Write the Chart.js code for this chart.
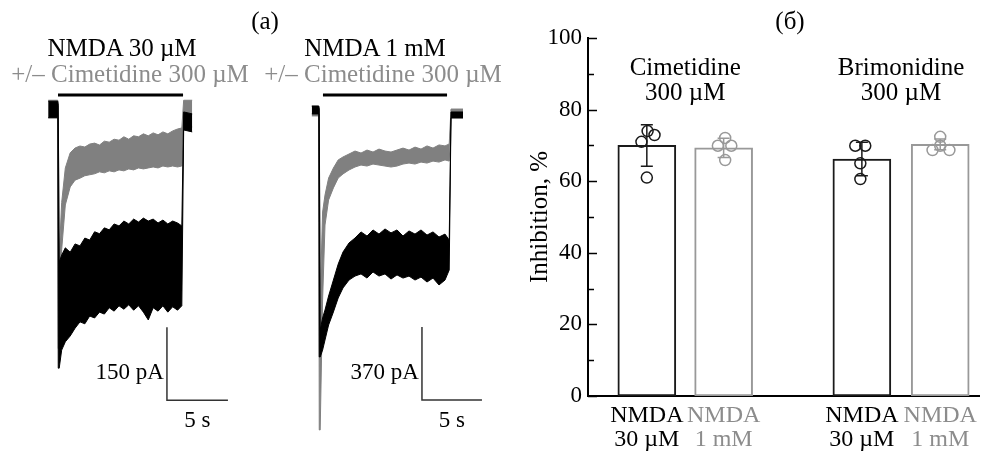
<!DOCTYPE html>
<html>
<head>
<meta charset="utf-8">
<script src="https://cdn.jsdelivr.net/npm/chart.js@4.4.1/dist/chart.umd.min.js"></script>
<style>
  html, body { margin: 0; padding: 0; background: #fff; }
  #wrap { position: relative; width: 986px; height: 451px; overflow: hidden; font-family: "Liberation Serif", "Times New Roman", serif; }
  #traces { position: absolute; left: 0; top: 0; }
  #bars { position: absolute; left: 500px; top: 0; }
  .lbl { position: absolute; transform: translate(-50%, -50%); white-space: nowrap; font-size: 25px; line-height: 1; color: #000; }
  .gray { color: #8c8c8c; }
</style>
</head>
<body>
<div id="wrap">
  <canvas id="traces" width="500" height="451"></canvas>
  <canvas id="bars" width="486" height="451"></canvas>
  <div class="lbl" style="left:265px;top:20px">(a)</div>
  <div class="lbl" style="left:122px;top:47px">NMDA 30 µM</div>
  <div class="lbl gray" style="left:130px;top:73px">+/– Cimetidine 300 µM</div>
  <div class="lbl" style="left:375px;top:47px">NMDA 1 mM</div>
  <div class="lbl gray" style="left:383px;top:73px">+/– Cimetidine 300 µM</div>
  <div class="lbl" style="left:790px;top:20px">(б)</div>
</div>
<script>
// ---- panel (a): current traces, envelopes of the noisy records (s, pA)
const trace1Time = [-0.8, -0.02, 0.02, 0.1, 0.3, 0.6, 1.0, 1.4, 1.8, 2.2, 2.6, 3.0, 3.4, 3.8, 4.2, 4.6, 5.0, 5.4, 5.8, 6.2, 6.6, 7.0, 7.4, 7.8, 8.2, 8.6, 9.0, 9.4, 9.8, 10.15, 10.3, 11.0];
const trace1CtrlUpper = [18, 18, 10, -312, -298, -283, -292, -275, -279, -263, -267, -250, -254, -242, -246, -234, -238, -228, -234, -224, -230, -222, -228, -224, -232, -226, -234, -228, -232, -238, -4, -8];
const trace1CtrlLower = [-16, -16, -530, -530, -493, -476, -464, -448, -435, -439, -423, -427, -415, -419, -406, -413, -402, -409, -400, -411, -402, -415, -431, -406, -413, -402, -415, -404, -411, -402, -41, -45];
const trace1CimUpper = [20, 20, 10, -300, -190, -119, -88, -78, -74, -76, -70, -68, -72, -64, -66, -60, -62, -55, -60, -53, -55, -49, -53, -47, -51, -45, -49, -43, -39, -37, 20, 20];
const trace1CimLower = [-16, -16, -490, -490, -287, -195, -158, -144, -140, -135, -133, -131, -127, -129, -125, -127, -123, -125, -121, -123, -119, -121, -119, -117, -119, -115, -117, -115, -117, -115, -35, -35];

const trace2Time = [-0.6, -0.02, 0.02, 0.1, 0.3, 0.5, 0.8, 1.2, 1.6, 2.0, 2.5, 3.0, 3.5, 4.0, 4.5, 5.0, 5.5, 6.0, 6.5, 7.0, 7.5, 8.0, 8.5, 9.0, 9.5, 10.0, 10.5, 10.85, 11.0, 12.0];
const trace2CtrlUpper = [25, 25, 10, -1110, -1049, -1009, -938, -857, -776, -715, -669, -644, -613, -634, -603, -624, -598, -618, -603, -634, -608, -624, -603, -629, -613, -639, -624, -654, -5, -5];
const trace2CtrlLower = [-15, -15, -1247, -1247, -1212, -1161, -1085, -1019, -948, -897, -857, -837, -826, -847, -816, -837, -826, -852, -831, -847, -837, -857, -842, -867, -847, -882, -857, -806, -35, -35];
const trace2CimUpper = [25, 25, 10, -958, -512, -426, -340, -289, -248, -233, -218, -203, -213, -198, -208, -193, -203, -208, -198, -188, -198, -183, -193, -177, -188, -172, -177, -167, 10, 10];
const trace2CimLower = [-25, -25, -1617, -1617, -958, -578, -451, -390, -340, -319, -299, -284, -274, -279, -269, -274, -279, -284, -279, -269, -264, -269, -259, -264, -254, -259, -248, -254, -35, -35];

// application bars (s) and scale bars
const app1Time = [0, 10.25];
const app2Time = [0.33, 10.67];
const scale1Time = [8.93, 8.93, 13.93];
const scale1Current = [-446, -596, -596];
const scale2Time = [8.58, 8.58, 13.58];
const scale2Current = [-1095, -1465, -1465];
const scaleLabels = [['150 pA', '5 s'], ['370 pA', '5 s']];

// ---- panel (б): inhibition, %
const barLabels = [['NMDA', '30 µM'], ['NMDA', '1 mM'], ['NMDA', '30 µM'], ['NMDA', '1 mM']];
const barPos = [0, 1, 2.8, 3.82];
const barMeans = [70.0, 69.3, 66.2, 70.3];
const barSD = [5.8, 2.7, 4.7, 1.5];
const cellValues = [[71.0, 74.0, 72.9, 61.0], [72.1, 69.9, 69.9, 65.9], [69.9, 69.9, 65.0, 60.6], [72.4, 68.7, 68.7, 69.9]];
const cellJitter = [[-0.07, 0.01, 0.1, 0], [0.02, -0.075, 0.1, 0.02], [-0.086, 0.044, -0.02, -0.02], [0, -0.1, 0.12, 0]];
const groupNames = [['Cimetidine', '300 µM'], ['Brimonidine', '300 µM']];

const BLACK = '#000000';
const GRAY = '#808080';
const barColors = ['#1a1a1a', '#999999', '#1a1a1a', '#999999'];
const textColors = ['#000000', '#8c8c8c', '#000000', '#8c8c8c'];
const FONT = '"Liberation Serif", "Times New Roman", serif';

function band(time, up, low, color, xID, yID, ord) {
  const common = { borderColor: color, backgroundColor: color, borderWidth: 1, pointRadius: 0, tension: 0, xAxisID: xID, yAxisID: yID, order: ord };
  return [
    Object.assign({ data: time.map((t, i) => ({ x: t, y: up[i] })), fill: false }, common),
    Object.assign({ data: time.map((t, i) => ({ x: t, y: low[i] })), fill: '-1' }, common)
  ];
}

function lineSet(xs, ys, xID, yID, width, color) {
  return { data: xs.map((t, i) => ({ x: t, y: ys[i] })), borderColor: color, borderWidth: width, pointRadius: 0, fill: false, xAxisID: xID, yAxisID: yID, order: 0 };
}

const scaleLabelPlugin = {
  id: 'scaleLabels',
  afterDatasetsDraw(chart) {
    const ctx = chart.ctx;
    const sets = [[scale1Time, scale1Current, 'x1', 'y1'], [scale2Time, scale2Current, 'x2', 'y2']];
    ctx.save();
    ctx.fillStyle = BLACK;
    ctx.font = '23px ' + FONT;
    sets.forEach((s, k) => {
      const xs = chart.scales[s[2]], ys = chart.scales[s[3]];
      const x0 = xs.getPixelForValue(s[0][0]);
      const x1 = xs.getPixelForValue(s[0][2]);
      const yb = ys.getPixelForValue(s[1][1]);
      ctx.textAlign = 'right';
      ctx.textBaseline = 'middle';
      ctx.fillText(scaleLabels[k][0], x0 - 3, yb - 27);
      ctx.textAlign = 'center';
      ctx.fillText(scaleLabels[k][1], (x0 + x1) / 2, yb + 21);
    });
    ctx.restore();
  }
};

const hidden = (min, max) => ({ type: 'linear', display: false, min: min, max: max });

new Chart(document.getElementById('traces'), {
  type: 'line',
  data: {
    datasets: [
      ...band(trace1Time, trace1CimUpper, trace1CimLower, GRAY, 'x1', 'y1', 3),
      ...band(trace1Time, trace1CtrlUpper, trace1CtrlLower, BLACK, 'x1', 'y1', 2),
      ...band(trace2Time, trace2CimUpper, trace2CimLower, GRAY, 'x2', 'y2', 3),
      ...band(trace2Time, trace2CtrlUpper, trace2CtrlLower, BLACK, 'x2', 'y2', 2),
      lineSet(app1Time, [31, 31], 'x1', 'y1', 3, BLACK),
      lineSet(app2Time, [81, 81], 'x2', 'y2', 3, BLACK),
      lineSet(scale1Time, scale1Current, 'x1', 'y1', 1.5, '#333'),
      lineSet(scale2Time, scale2Current, 'x2', 'y2', 1.5, '#333')
    ]
  },
  options: {
    responsive: false,
    animation: false,
    events: [],
    layout: { padding: 0 },
    plugins: { legend: { display: false }, tooltip: { enabled: false } },
    scales: {
      x1: hidden(-4.754, 36.23),
      x2: hidden(-26.583, 15.083),
      y1: hidden(-700.1, 225.8),
      y2: hidden(-1723.8, 562.8)
    }
  },
  plugins: [scaleLabelPlugin]
});

const barExtras = {
  id: 'barExtras',
  afterDatasetsDraw(chart) {
    const ctx = chart.ctx, xs = chart.scales.x, ys = chart.scales.y, area = chart.chartArea;
    ctx.save();
    // inward tick marks
    ctx.strokeStyle = BLACK;
    ctx.lineWidth = 1.5;
    for (let v = 0; v <= 100; v += 10) {
      const y = Math.round(ys.getPixelForValue(v)) + 0.5;
      ctx.beginPath();
      ctx.moveTo(area.left, y);
      ctx.lineTo(area.left + (v % 20 === 0 ? 9 : 6), y);
      ctx.stroke();
    }
    // error bars
    barPos.forEach((p, i) => {
      const x = xs.getPixelForValue(p);
      const yt = ys.getPixelForValue(barMeans[i] + barSD[i]);
      const yb = ys.getPixelForValue(barMeans[i] - barSD[i]);
      ctx.strokeStyle = barColors[i];
      ctx.lineWidth = 1.5;
      ctx.beginPath();
      ctx.moveTo(x, yt); ctx.lineTo(x, yb);
      ctx.moveTo(x - 6, yt); ctx.lineTo(x + 6, yt);
      ctx.moveTo(x - 6, yb); ctx.lineTo(x + 6, yb);
      ctx.stroke();
    });
    // group titles
    ctx.fillStyle = BLACK;
    ctx.font = '25px ' + FONT;
    ctx.textAlign = 'center';
    ctx.textBaseline = 'middle';
    groupNames.forEach((g, k) => {
      const x = (xs.getPixelForValue(barPos[2 * k]) + xs.getPixelForValue(barPos[2 * k + 1])) / 2;
      ctx.fillText(g[0], x, ys.getPixelForValue(91.6));
      ctx.fillText(g[1], x, ys.getPixelForValue(84.6));
    });
    ctx.restore();
  }
};

const cellSets = cellValues.map((vals, i) => ({
  type: 'scatter',
  data: vals.map((v, j) => ({ x: barPos[i] + cellJitter[i][j], y: v })),
  pointStyle: 'circle',
  pointRadius: 5.5,
  pointBorderWidth: 1.5,
  pointBorderColor: barColors[i],
  pointBackgroundColor: 'rgba(0,0,0,0)',
  order: 0
}));

new Chart(document.getElementById('bars'), {
  type: 'bar',
  data: {
    datasets: [
      ...cellSets,
      {
        type: 'bar',
        data: barPos.map((p, i) => ({ x: p, y: barMeans[i] })),
        backgroundColor: '#ffffff',
        borderColor: barColors,
        borderWidth: 2,
        borderSkipped: false,
        barThickness: 58,
        order: 1
      }
    ]
  },
  options: {
    responsive: false,
    animation: false,
    events: [],
    layout: { padding: { top: 38, right: 6, bottom: 0, left: 0 } },
    plugins: { legend: { display: false }, tooltip: { enabled: false } },
    scales: {
      x: {
        type: 'linear',
        offset: false,
        min: -0.766,
        max: 4.325,
        grid: { display: false, drawTicks: false, offset: false },
        border: { display: true, color: BLACK, width: 2 },
        afterBuildTicks: (scale) => { scale.ticks = barPos.map(v => ({ value: v })); },
        afterFit: (scale) => { scale.height = 55; },
        ticks: {
          autoSkip: false,
          maxRotation: 0,
          padding: 7,
          font: { family: FONT, size: 24, lineHeight: 1.02 },
          color: (c) => textColors[c.index],
          callback: (v, i) => barLabels[i]
        }
      },
      y: {
        min: 0,
        max: 100,
        grid: { display: false, drawTicks: false },
        border: { display: true, color: BLACK, width: 2 },
        afterFit: (scale) => { scale.width = 88; },
        title: { display: true, text: 'Inhibition, %', color: BLACK, font: { family: FONT, size: 25 }, padding: { top: 25, bottom: 0 } },
        ticks: {
          stepSize: 10,
          padding: 6,
          color: BLACK,
          font: { family: FONT, size: 23 },
          callback: (v) => (v % 20 === 0 ? v : '')
        }
      }
    }
  },
  plugins: [barExtras]
});
</script>
</body>
</html>
